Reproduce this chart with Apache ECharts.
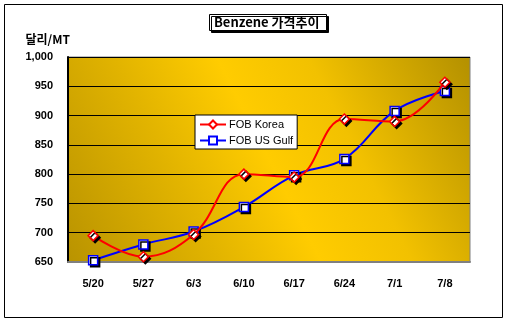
<!DOCTYPE html>
<html><head><meta charset="utf-8">
<script src="https://cdn.jsdelivr.net/npm/echarts@6/dist/echarts.min.js"></script>
<style>html,body{margin:0;padding:0;background:#fff}#c{width:508px;height:325px}</style>
</head><body><div id="c"></div>
<script>
const categories = ['5/20','5/27','6/3','6/10','6/17','6/24','7/1','7/8'];
const fobKorea = [695, 659, 697, 800, 795, 894, 890, 957];
const fobUSGulf = [653, 680, 702, 744, 798, 826, 908, 942];
const yTicks = {min: 650, max: 1000, interval: 50};

const chart = echarts.init(document.getElementById('c'), null, {renderer: 'canvas'});
const labelFont = {fontFamily: 'Liberation Sans, Arial, sans-serif', fontWeight: 'bold', fontSize: 11, color: '#000'};
chart.setOption({
  animation: false,
  backgroundColor: '#fff',
  graphic: [{type: 'rect', shape: {x: 4.5, y: 4.5, width: 498, height: 313}, style: {fill: 'none', stroke: '#000', lineWidth: 1}, silent: true}],
  title: {
    text: 'Benzene 가격추이', left: 209, top: 14,
    padding: [2, 7, 2, 5],
    backgroundColor: '#fff', borderColor: '#000', borderWidth: 1,
    shadowColor: '#000', shadowOffsetX: 2, shadowOffsetY: 2, shadowBlur: 0,
    textStyle: {fontFamily: 'Noto Sans CJK KR, sans-serif', fontWeight: 'bold', fontSize: 13, color: '#000'}
  },
  legend: {
    left: 195, top: 115, orient: 'vertical', itemGap: 5, itemWidth: 26, itemHeight: 10,
    padding: [4, 4, 3, 4],
    backgroundColor: '#fff', borderColor: '#000', borderWidth: 1,
    textStyle: {fontFamily: 'Liberation Sans, Arial, sans-serif', fontSize: 11, color: '#000', padding: [0, 0, 0, -2]},
    data: [{name: 'FOB Korea'}, {name: 'FOB US Gulf'}]
  },
  grid: {
    left: 68, right: 38, top: 57, bottom: 63, show: true,
    borderColor: '#808080', borderWidth: 1,
    backgroundColor: {type: 'linear', x: 0, y: 1, x2: 1, y2: 0, colorStops: [
      {offset: 0, color: '#B99300'}, {offset: 0.3, color: '#E2B400'}, {offset: 0.5, color: '#FFCC00'},
      {offset: 0.68, color: '#F2C100'}, {offset: 1, color: '#B39000'}]}
  },
  xAxis: {
    type: 'category', data: categories, boundaryGap: true,
    axisLine: {lineStyle: {color: '#808080', width: 2}},
    axisTick: {inside: true, length: 3, lineStyle: {color: '#000'}},
    axisLabel: Object.assign({margin: 16}, labelFont)
  },
  yAxis: {
    type: 'value', min: yTicks.min, max: yTicks.max, interval: yTicks.interval,
    name: '달리/MT', nameLocation: 'end', nameGap: 12,
    nameTextStyle: {fontFamily: 'Noto Sans CJK KR, sans-serif', fontWeight: 'bold', fontSize: 12, color: '#000', align: 'right', padding: [0, -2, 0, 0]},
    axisLine: {show: true, lineStyle: {color: '#000', width: 2}},
    axisTick: {show: false},
    splitLine: {lineStyle: {color: '#000', width: 1}},
    axisLabel: Object.assign({margin: 15, formatter: v => v.toLocaleString('en-US')}, labelFont)
  },
  series: [
    {name: 'FOB Korea', type: 'line', data: fobKorea, smooth: 0.4,
     symbol: 'diamond', symbolSize: 10,
     lineStyle: {color: '#FF0000', width: 2},
     itemStyle: {color: '#fff', borderColor: '#FF0000', borderWidth: 1.5, shadowColor: '#000', shadowOffsetX: 2, shadowOffsetY: 2, shadowBlur: 0},
     color: '#FF0000', z: 3},
    {name: 'FOB US Gulf', type: 'line', data: fobUSGulf, smooth: 0.4,
     symbol: 'rect', symbolSize: 9,
     lineStyle: {color: '#0000FF', width: 2},
     itemStyle: {color: '#fff', borderColor: '#0000FF', borderWidth: 1.5, shadowColor: '#000', shadowOffsetX: 2, shadowOffsetY: 2, shadowBlur: 0},
     color: '#0000FF', z: 2}
  ]
});
</script></body></html>
